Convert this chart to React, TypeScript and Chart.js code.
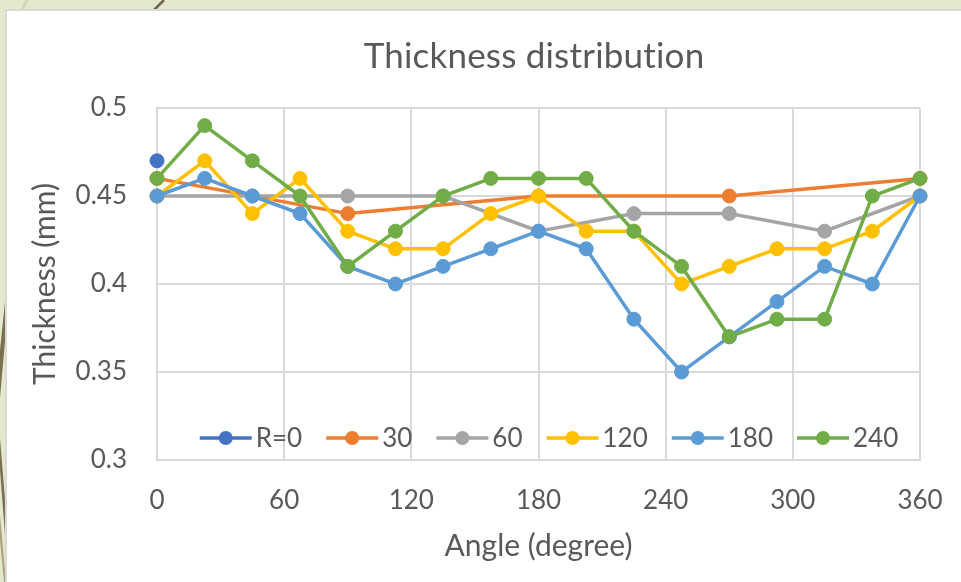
import React, { useEffect, useRef } from 'react';
import { Chart, registerables } from 'chart.js';

Chart.register(...registerables);

// Measurement angles (degrees) shared by the densely sampled series
const angles = [0, 22.5, 45, 67.5, 90, 112.5, 135, 157.5, 180, 202.5, 225, 247.5, 270, 292.5, 315, 337.5, 360];

// R = 0 : single centre value
const r0Angles = [0];
const r0Values = [0.47];

// R = 30
const r30Angles = [0, 90, 180, 270, 360];
const r30Values = [0.46, 0.44, 0.45, 0.45, 0.46];

// R = 60
const r60Angles = [0, 45, 90, 135, 180, 225, 270, 315, 360];
const r60Values = [0.45, 0.45, 0.45, 0.45, 0.43, 0.44, 0.44, 0.43, 0.45];

// R = 120, 180, 240 (sampled at every angle)
const r120Values = [0.45, 0.47, 0.44, 0.46, 0.43, 0.42, 0.42, 0.44, 0.45, 0.43, 0.43, 0.40, 0.41, 0.42, 0.42, 0.43, 0.45];
const r180Values = [0.45, 0.46, 0.45, 0.44, 0.41, 0.40, 0.41, 0.42, 0.43, 0.42, 0.38, 0.35, 0.37, 0.39, 0.41, 0.40, 0.45];
const r240Values = [0.46, 0.49, 0.47, 0.45, 0.41, 0.43, 0.45, 0.46, 0.46, 0.46, 0.43, 0.41, 0.37, 0.38, 0.38, 0.45, 0.46];

const seriesLabels = ['R=0', '30', '60', '120', '180', '240'];
const seriesColors = ['#4472C4', '#ED7D31', '#A5A5A5', '#FFC000', '#5B9BD5', '#70AD47'];

const xTicks = [0, 60, 120, 180, 240, 300, 360];
const yTicks = [0.3, 0.35, 0.4, 0.45, 0.5];
const yTickLabels = ['0.3', '0.35', '0.4', '0.45', '0.5'];

const chartTitle = 'Thickness distribution';
const xTitle = 'Angle (degree)';
const yTitle = 'Thickness (mm)';

const FONT = 'Lato, "Open Sans", "Noto Sans", sans-serif';
const TEXT = '#595959';
const GRID = '#D9D9D9';
const LINE_W = 3.5;
const MARK_R = 7;

const pairs = (xs: number[], ys: number[]) => xs.map((x, i) => ({ x, y: ys[i] }));

const seriesData = [
  pairs(r0Angles, r0Values),
  pairs(r30Angles, r30Values),
  pairs(r60Angles, r60Values),
  pairs(angles, r120Values),
  pairs(angles, r180Values),
  pairs(angles, r240Values),
];

// Chart heading centred above the plot (plain glyphs, no "ti" ligature)
const titlePlugin = {
  id: 'sheetTitle',
  afterDraw(chart: any) {
    const { ctx } = chart;
    ctx.save();
    ctx.font = `35px ${FONT}`;
    (ctx as any).textRendering = 'optimizeSpeed';
    (ctx as any).letterSpacing = '0.2px';
    ctx.fillStyle = TEXT;
    ctx.textAlign = 'center';
    ctx.textBaseline = 'middle';
    ctx.fillText(chartTitle, 534, 57);
    ctx.restore();
  },
};

// Legend laid inside the plot area along its bottom edge: line + marker + label
const legendPlugin = {
  id: 'inlineLegend',
  afterDatasetsDraw(chart: any) {
    const { ctx, chartArea } = chart;
    const datasets = chart.data.datasets;
    const lineLen = 52;
    const textGap = 4;
    const itemGap = 24;
    ctx.save();
    ctx.font = `26px ${FONT}`;
    const widths = datasets.map((ds: any) => ctx.measureText(ds.label).width);
    const total =
      widths.reduce((a: number, w: number) => a + lineLen + textGap + w, 0) + itemGap * (datasets.length - 1);
    let x = 549 - total / 2;
    const y = chartArea.bottom - 22;
    datasets.forEach((ds: any, i: number) => {
      ctx.strokeStyle = ds.borderColor;
      ctx.lineWidth = LINE_W;
      ctx.beginPath();
      ctx.moveTo(x, y);
      ctx.lineTo(x + lineLen, y);
      ctx.stroke();
      ctx.fillStyle = ds.borderColor;
      ctx.beginPath();
      ctx.arc(x + lineLen / 2, y, MARK_R, 0, Math.PI * 2);
      ctx.fill();
      ctx.fillStyle = TEXT;
      ctx.textAlign = 'left';
      ctx.textBaseline = 'middle';
      ctx.fillText(ds.label, x + lineLen + textGap, y + 1);
      x += lineLen + textGap + widths[i] + itemGap;
    });
    ctx.restore();
  },
};

export default function App() {
  const canvasRef = useRef<HTMLCanvasElement | null>(null);

  useEffect(() => {
    if (!canvasRef.current) return;
    Chart.defaults.font.family = FONT;

    const chart = new Chart(canvasRef.current, {
      type: 'line',
      data: {
        datasets: seriesLabels.map((label, i) => ({
          label,
          data: seriesData[i],
          borderColor: seriesColors[i],
          backgroundColor: seriesColors[i],
          pointBackgroundColor: seriesColors[i],
          pointBorderColor: seriesColors[i],
          pointBorderWidth: 1,
          pointRadius: MARK_R,
          borderWidth: LINE_W,
          tension: 0,
          fill: false,
          clip: false,
          order: seriesLabels.length - i,
        })),
      },
      options: {
        responsive: false,
        animation: false,
        events: [],
        layout: { padding: { top: 108, right: 41, left: 0, bottom: 0 } },
        plugins: {
          legend: { display: false },
          title: { display: false },
          tooltip: { enabled: false },
        },
        scales: {
          x: {
            type: 'linear',
            min: 0,
            max: 360,
            afterBuildTicks: (s: any) => {
              s.ticks = xTicks.map((value) => ({ value }));
            },
            afterFit: (s: any) => {
              s.height = 122;
              s.paddingLeft = 0;
              s.paddingRight = 0;
            },
            grid: { color: GRID, lineWidth: 2, drawTicks: false },
            border: { color: GRID, width: 2 },
            ticks: {
              color: TEXT,
              font: { size: 26 },
              padding: 25,
              maxRotation: 0,
              autoSkip: false,
              callback: (v: any) => String(v),
            },
            title: {
              display: true,
              text: xTitle,
              color: TEXT,
              font: { size: 30 },
              padding: { top: 0, bottom: 18 },
            },
          },
          y: {
            type: 'linear',
            min: 0.3,
            max: 0.5,
            afterBuildTicks: (s: any) => {
              s.ticks = yTicks.map((value) => ({ value }));
            },
            afterFit: (s: any) => {
              s.width = 157;
            },
            grid: { color: GRID, lineWidth: 2, drawTicks: false },
            border: { color: GRID, width: 2 },
            ticks: {
              color: TEXT,
              font: { size: 26 },
              padding: 30,
              callback: (_v: any, idx: number) => yTickLabels[idx],
            },
            title: {
              display: true,
              text: yTitle,
              color: TEXT,
              font: { size: 30 },
              padding: { top: 27, bottom: 0 },
            },
          },
        },
      },
      plugins: [titlePlugin, legendPlugin],
    } as any);

    return () => chart.destroy();
  }, []);

  return (
    <div
      style={{
        position: 'fixed',
        left: 0,
        top: 0,
        width: 961,
        height: 582,
        overflow: 'hidden',
        background: '#E4E9CD',
      }}
    >
      <svg width={961} height={582} style={{ position: 'absolute', left: 0, top: 0 }}>
        <line x1={27} y1={0} x2={22} y2={10} stroke="#D2D8B2" strokeWidth={3} />
        <line x1={164} y1={0} x2={154} y2={10} stroke="#6E6548" strokeWidth={2.5} />
        <polygon points="6,292 6,330 0,398 0,350" fill="#7A7052" />
        <polygon points="0,438 0,470 6,548 6,512" fill="#7A7052" />
        <polygon points="0,515 0,540 4,582 6,582" fill="#A9A37F" />
      </svg>
      <div
        style={{
          position: 'absolute',
          left: 5,
          top: 9,
          width: 980,
          height: 600,
          background: '#FFFFFF',
          border: '2px solid #D9D9D9',
          boxSizing: 'border-box',
        }}
      />
      <canvas
        ref={canvasRef}
        width={961}
        height={582}
        style={{ position: 'absolute', left: 0, top: 0, display: 'block' }}
      />
    </div>
  );
}
